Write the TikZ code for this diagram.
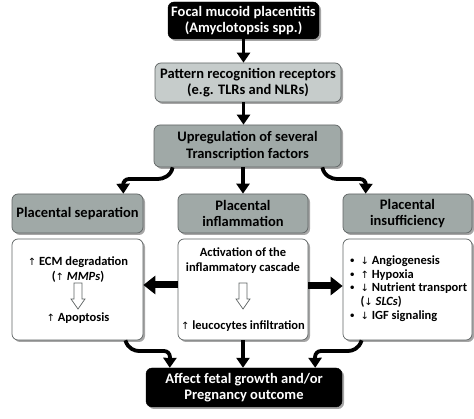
\documentclass[tikz,border=0pt]{standalone}
\usepackage{fontspec}
\setmainfont{Carlito}
\newfontfamily\symf{DejaVu Sans}
\usetikzlibrary{arrows.meta,shadows}
\newcommand{\uparr}{{\symf\mdseries\fontsize{10}{10}\selectfont ↑}}
\newcommand{\dnarr}{{\symf\mdseries\fontsize{10}{10}\selectfont ↓}}
\newcommand{\bul}{{\symf\bfseries\fontsize{10}{10}\selectfont •}}
\definecolor{prrgray}{RGB}{198,204,203}
\definecolor{hdrgray}{RGB}{160,169,167}
\definecolor{edgegray}{RGB}{95,100,100}
\tikzset{
  base/.style={rounded corners=6pt, align=center, inner sep=0pt,
    font=\bfseries\fontsize{14.5}{16.5}\selectfont,
    drop shadow={shadow xshift=2pt, shadow yshift=-2pt, fill=black, opacity=0.35}},
  blk/.style={base, fill=black, draw=black, text=white},
  lgray/.style={base, fill=prrgray, draw=edgegray, line width=0.7pt},
  dgray/.style={base, fill=hdrgray, draw=edgegray, line width=0.7pt},
  bodybox/.style={base, fill=white, draw=edgegray, line width=0.7pt},
  btxt/.style={align=center, inner sep=0pt, font=\bfseries\fontsize{12.5}{15}\selectfont},
  arr/.style={line width=3.8pt, -{Triangle[width=13pt,length=10pt]}},
  bigarr/.style={line width=7pt, -{Triangle[width=18pt,length=12pt]}},
  hollow/.style={draw=edgegray, fill=white, line width=0.7pt, line join=miter},
}
\newcommand{\hollowarrow}[3]{% x, ytop, ybottom
  \path[hollow] (#1-4,#2) -- (#1+4,#2) -- (#1+4,#3-10) -- (#1+7,#3-10) -- (#1,#3) -- (#1-7,#3-10) -- (#1-4,#3-10) -- cycle;}
\begin{document}
\begin{tikzpicture}[x=1pt,y=-1pt]
\useasboundingbox (0,0) rectangle (474,419);
% main chain
\node[blk, minimum width=151pt, minimum height=37pt] (focal) at (243.5,20.5)
  {Focal mucoid placentitis\\(Amyclotopsis spp.)};
\node[lgray, minimum width=186pt, minimum height=39pt] (prr) at (248,82.5)
  {Pattern recognition receptors\\(e.g. TLRs and NLRs)};
\node[dgray, minimum width=187pt, minimum height=42pt] (up) at (247.5,146)
  {Upregulation of several\\Transcription factors};
% headers
\node[dgray, minimum width=131pt, minimum height=39pt] (sep) at (77.5,213.5) {Placental separation};
\node[dgray, minimum width=130pt, minimum height=39pt] (inf) at (243,213.5) {Placental\\inflammation};
\node[dgray, minimum width=129pt, minimum height=39pt] (ins) at (407.5,213.5) {Placental\\insufficiency};
% bodies
\node[bodybox, minimum width=131pt, minimum height=101pt] (sepb) at (77.5,289.5) {};
\node[bodybox, minimum width=130pt, minimum height=101pt] (infb) at (243,289.5) {};
\node[bodybox, minimum width=129pt, minimum height=101pt] (insb) at (407.5,289.5) {};
% bottom
\node[blk, minimum width=196pt, minimum height=39pt] (bot) at (244,387.5)
  {Affect fetal growth and/or\\Pregnancy outcome};
% body texts
\node[btxt] (ecm) at (78,270) {\uparr\ ECM degradation\\(\uparr\ \textit{MMPs})};
\node[btxt] (apo) at (78,318) {\uparr\ Apoptosis};
\node[btxt] (act) at (243,261) {Activation of the\\inflammatory cascade};
\node[btxt] (leu) at (243,326) {\uparr\ leucocytes infiltration};
\node[btxt, anchor=west, align=left] (insl) at (349,289)
  {\begin{tabular}{@{}l@{\hspace{5pt}}l@{}}
   \bul & \dnarr\ Angiogenesis\\[-1.2pt]
   \bul & \uparr\ Hypoxia\\[-1.2pt]
   \bul & \dnarr\ Nutrient transport\\[-1.2pt]
        & (\dnarr\ \textit{SLCs})\\[-1.2pt]
   \bul & \dnarr\ IGF signaling
   \end{tabular}};
\hollowarrow{78}{283}{309}
\hollowarrow{243}{283}{309}
% connectors
\draw[arr] (focal.south) -- (focal.south |- prr.north);
\draw[arr] (focal.south |- prr.south) -- (focal.south |- up.north);
\draw[arr] (up.south -| inf.north) -- (inf.north);
\draw[arr, rounded corners=6pt] ([xshift=19pt]up.south west) .. controls (171,176) and (163,179) .. (152,179) -- (123,179) -- ([xshift=-20pt]sep.north east);
\draw[arr, rounded corners=6pt] ([xshift=-19pt]up.south east) .. controls (324,176) and (332,179) .. (343,179) -- (366,179) -- ([xshift=23pt]ins.north west);
\draw[bigarr] ([yshift=4.5pt]infb.west) -- ([yshift=4.5pt]sepb.east);
\draw[bigarr] ([yshift=3.5pt]infb.east) -- ([yshift=3.5pt]insb.west);
\draw[arr] (infb.south) -- (infb.south |- bot.north);
\draw[arr, rounded corners=6pt] ([xshift=-18pt]sepb.south east) .. controls (128,349) and (135,351) .. (145,351) -- (170,351) -- ([xshift=24pt]bot.north west);
\draw[arr, rounded corners=6pt] ([xshift=19pt]insb.south west) .. controls (359,349) and (352,351) .. (342,351) -- (315,351) -- ([xshift=-27pt]bot.north east);
\end{tikzpicture}
\end{document}
